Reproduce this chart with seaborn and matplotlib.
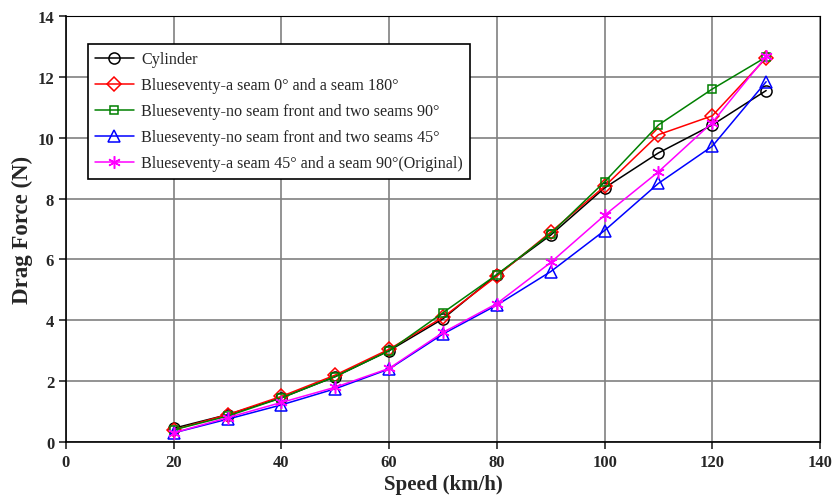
import matplotlib
matplotlib.use("Agg")
import matplotlib.pyplot as plt
import seaborn as sns
import pandas as pd

speed = [20, 30, 40, 50, 60, 70, 80, 90, 100, 110, 120, 130]
cylinder = [0.45, 0.9, 1.45, 2.15, 3.0, 4.05, 5.5, 6.8, 8.35, 9.5, 10.42, 11.55]
seam_0_180 = [0.4, 0.9, 1.5, 2.2, 3.05, 4.1, 5.45, 6.9, 8.4, 10.1, 10.72, 12.62]
seam_front_90 = [0.4, 0.85, 1.45, 2.15, 3.0, 4.25, 5.5, 6.85, 8.55, 10.42, 11.6, 12.65]
seam_front_45 = [0.3, 0.75, 1.22, 1.75, 2.4, 3.55, 4.5, 5.6, 6.95, 8.5, 9.72, 11.84]
seam_45_90 = [0.3, 0.8, 1.3, 1.8, 2.42, 3.6, 4.55, 5.9, 7.45, 8.88, 10.5, 12.67]

names = ["Cylinder",
         "Blueseventy-a seam 0° and a seam 180°",
         "Blueseventy-no seam front and two seams 90°",
         "Blueseventy-no seam front and two seams 45°",
         "Blueseventy-a seam 45° and a seam 90°(Original)"]
series = [cylinder, seam_0_180, seam_front_90, seam_front_45, seam_45_90]
colors = ["black", "#ff0000", "#008000", "#0000ff", "#ff00ff"]
markers = ["o", "D", "s", "^", (6, 2, 0)]
msizes = [8, 7, 6, 9, 9]

rows = []
for n, s in zip(names, series):
    for x, y in zip(speed, s):
        rows.append({"Speed": x, "Force": y, "Series": n})
df = pd.DataFrame(rows)

sns.set_style("ticks")
plt.rcParams['font.family'] = ['Liberation Serif', 'DejaVu Serif']

fig = plt.figure(figsize=(8.35, 5.02), dpi=100)
ax = fig.add_axes([66/835, 1-443/502, (820-66)/835, (443-17)/502])

for n, c, m, ms in zip(names, colors, markers, msizes):
    sub = df[df["Series"] == n]
    sns.lineplot(data=sub, x="Speed", y="Force", ax=ax, color=c, lw=1.1,
                 marker=m, markersize=ms, markerfacecolor="none",
                 markeredgecolor=c, markeredgewidth=1.1, label=n, zorder=3)

ax.set_xlim(0, 140)
ax.set_ylim(0, 14)
ax.set_xticks(range(0, 141, 20))
ax.set_yticks(range(0, 15, 2))
ax.grid(True, color="#808080", lw=1.2)
ax.set_axisbelow(True)
for sp in ax.spines.values():
    sp.set_color("black")
    sp.set_linewidth(1.2)
ax.spines["top"].set_linewidth(0.8)
ax.spines["right"].set_linewidth(0.8)
ax.tick_params(direction="out", length=5, width=1.2, labelsize=12)
for lab in ax.get_xticklabels() + ax.get_yticklabels():
    lab.set_fontweight("bold")
ax.set_xlabel("Speed (km/h)", fontsize=15, fontweight="bold", labelpad=3)
ax.set_ylabel("Drag Force (N)", fontsize=16.5, fontweight="bold", labelpad=3)

leg = ax.legend(loc="upper left", bbox_to_anchor=(0.029, 0.934), borderaxespad=0,
                fontsize=11.6, frameon=True, fancybox=False, edgecolor="black",
                framealpha=1, handlelength=2.4, handletextpad=0.45,
                labelspacing=0.62, borderpad=0.45)
leg.get_frame().set_linewidth(1.2)

fig.savefig("out.png", dpi=100)
